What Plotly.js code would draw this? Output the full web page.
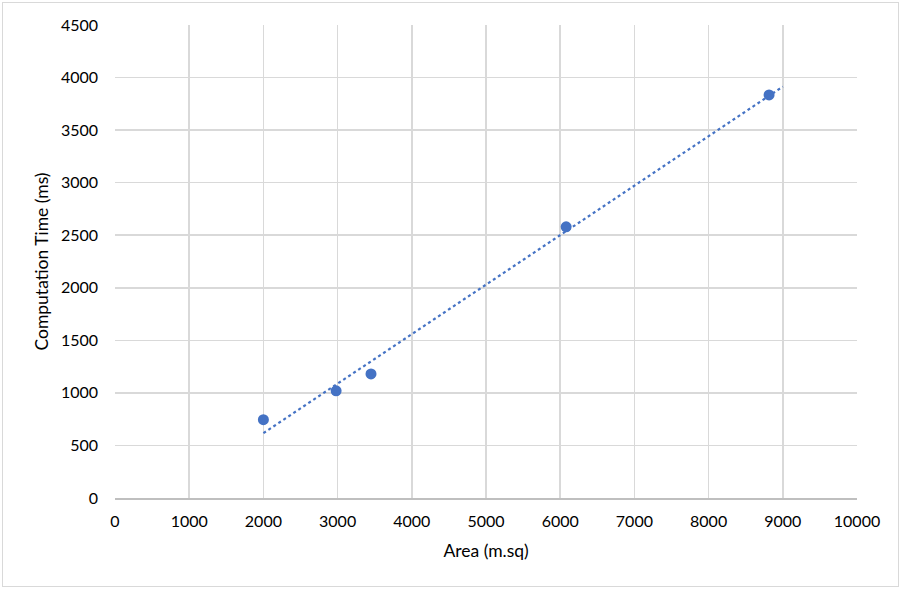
<!DOCTYPE html>
<html>
<head>
<meta charset="utf-8">
<script src="https://cdn.plot.ly/plotly-3.0.1.min.js"></script>
<style>
  html, body { margin: 0; padding: 0; background: #fff; }
  #frame { position: absolute; left: 2px; top: 2px; width: 897px; height: 585px; border: 1px solid #d9d9d9; box-sizing: border-box; }
  #chart { position: absolute; left: 0; top: 0; width: 904px; height: 591px; }
</style>
</head>
<body>
<div id="frame"></div>
<div id="chart"></div>
<script>
const areas = [2000, 2980, 3450, 6080, 8815];
const times = [745, 1020, 1180, 2580, 3835];
const trendRange = [2000, 9000];
const xTicks = [0, 1000, 2000, 3000, 4000, 5000, 6000, 7000, 8000, 9000, 10000];
const yTicks = [0, 500, 1000, 1500, 2000, 2500, 3000, 3500, 4000, 4500];

// least squares linear trendline
const n = areas.length;
const mx = areas.reduce((a, b) => a + b, 0) / n;
const my = times.reduce((a, b) => a + b, 0) / n;
let sxy = 0, sxx = 0;
for (let i = 0; i < n; i++) { sxy += (areas[i] - mx) * (times[i] - my); sxx += (areas[i] - mx) ** 2; }
const slope = sxy / sxx;
const intercept = my - slope * mx;
const trendY = trendRange.map(x => intercept + slope * x);

const blue = '#4472C4';
const font = "Lato, 'Open Sans', sans-serif";

const data = [
  { x: trendRange, y: trendY, mode: 'lines', type: 'scatter',
    line: { color: blue, width: 2.2, dash: 'dot' }, hoverinfo: 'skip', showlegend: false },
  { x: areas, y: times, mode: 'markers', type: 'scatter',
    marker: { color: blue, size: 11 }, showlegend: false }
];

const layout = {
  width: 904, height: 591,
  margin: { l: 115, r: 47, t: 25, b: 93 },
  paper_bgcolor: 'rgba(0,0,0,0)', plot_bgcolor: '#fff',
  font: { family: font, size: 16, color: '#000' },
  xaxis: {
    range: [0, 10000], tickvals: xTicks, ticktext: xTicks.map(String),
    showgrid: true, gridcolor: '#d9d9d9', gridwidth: 1.5,
    showline: true, linecolor: '#bfbfbf', linewidth: 1.5,
    zeroline: false, ticks: '', ticklabelstandoff: 8,
    title: { text: 'Area (m.sq)', font: { family: font, size: 17.5 }, standoff: 16 }
  },
  yaxis: {
    range: [0, 4500], tickvals: yTicks, ticktext: yTicks.map(String),
    showgrid: true, gridcolor: '#d9d9d9', gridwidth: 1.5,
    showline: false, zeroline: false, ticks: '', ticklabelstandoff: 16,
    title: { text: 'Computation Time (ms)', font: { family: font, size: 17.5 }, standoff: 7 }
  }
};

Plotly.newPlot('chart', data, layout, { displayModeBar: false, staticPlot: true });
</script>
</body>
</html>
